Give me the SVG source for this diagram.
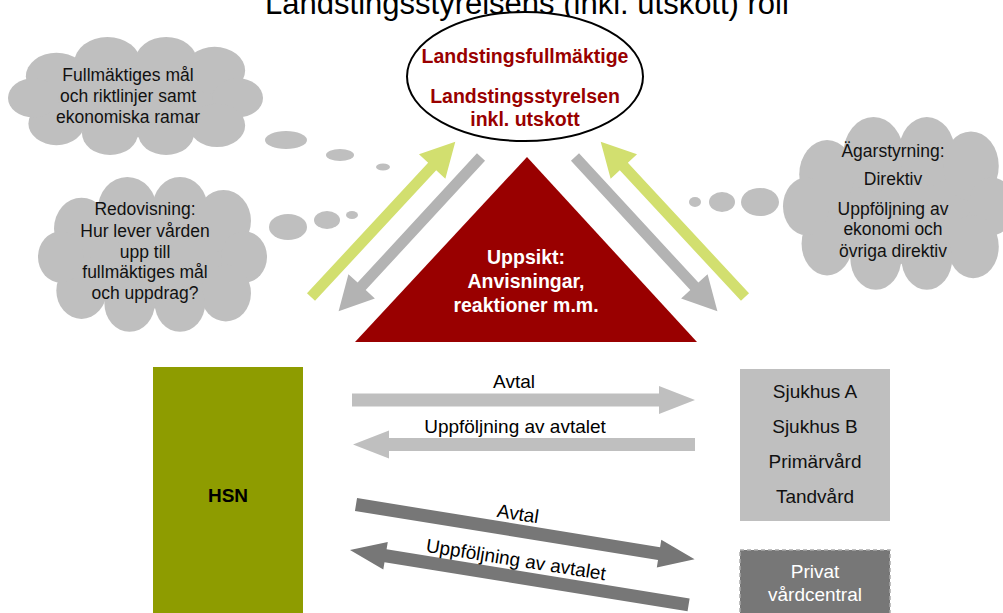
<svg xmlns="http://www.w3.org/2000/svg" xmlns:xlink="http://www.w3.org/1999/xlink" width="1003" height="613" viewBox="0 0 1003 613">
  <defs>
    <style>
      text { font-family: "Liberation Sans", Arial, sans-serif; }
      .title { font-size: 31px; fill: #000; }
      .cloudtxt { font-size: 17.5px; fill: #111; text-anchor: middle; }
      .boldred { font-size: 19.5px; font-weight: bold; fill: #990000; text-anchor: middle; }
      .boldwhite { font-size: 19.5px; font-weight: bold; fill: #fff; text-anchor: middle; }
      .unit { font-size: 19px; fill: #111; text-anchor: middle; }
      .lbl { font-size: 19px; fill: #000; text-anchor: middle; }
      .cloud { fill: #bfbfbf; }
      .green { fill: #d2df6f; }
      .grey { fill: #b3b3b3; }
      .light { fill: #bfbfbf; }
      .dark { fill: #777777; }
    </style>
    <!-- cloud outline built from overlapping lobes in a 200 x 120 box -->
    <g id="cloudShape">
      <ellipse cx="100" cy="60" rx="80" ry="42"/>
      <circle cx="38" cy="40" r="24"/>
      <circle cx="78" cy="26" r="26"/>
      <circle cx="124" cy="24" r="24"/>
      <circle cx="162" cy="34" r="24"/>
      <circle cx="180" cy="62" r="20"/>
      <circle cx="164" cy="90" r="22"/>
      <circle cx="124" cy="98" r="22"/>
      <circle cx="80" cy="98" r="22"/>
      <circle cx="38" cy="88" r="22"/>
      <circle cx="20" cy="62" r="20"/>
    </g>
  </defs>

  <rect width="1003" height="613" fill="#fff"/>

  <text class="title" x="527" y="14" text-anchor="middle">Landstingsstyrelsens (inkl. utskott) roll</text>

  <!-- thought clouds -->
  <g id="cloud-mal" class="cloud">
    <use xlink:href="#cloudShape" transform="translate(8,37) scale(1.275,0.983)"/>
    <ellipse cx="286" cy="140" rx="21" ry="9"/>
    <ellipse cx="340" cy="155" rx="14" ry="6"/>
    <ellipse cx="383" cy="167" rx="7" ry="3.5"/>
    <text class="cloudtxt" x="128" y="81">Fullmäktiges mål</text>
    <text class="cloudtxt" x="128" y="102">och riktlinjer samt</text>
    <text class="cloudtxt" x="128" y="123">ekonomiska ramar</text>
  </g>

  <g id="cloud-redovisning" class="cloud">
    <use xlink:href="#cloudShape" transform="translate(38,177) scale(1.145,1.29)"/>
    <ellipse cx="288" cy="227" rx="19" ry="13"/>
    <ellipse cx="327" cy="220" rx="13" ry="9"/>
    <ellipse cx="352" cy="215" rx="6" ry="4"/>
    <text class="cloudtxt" x="145" y="215">Redovisning:</text>
    <text class="cloudtxt" x="145" y="237">Hur lever vården</text>
    <text class="cloudtxt" x="145" y="258">upp till</text>
    <text class="cloudtxt" x="145" y="278">fullmäktiges mål</text>
    <text class="cloudtxt" x="145" y="299">och uppdrag?</text>
  </g>

  <g id="cloud-agarstyrning" class="cloud">
    <use xlink:href="#cloudShape" transform="translate(783,117) scale(1.16,1.44)"/>
    <ellipse cx="760" cy="202" rx="19" ry="14"/>
    <ellipse cx="722" cy="202" rx="13" ry="10"/>
    <ellipse cx="695" cy="202" rx="6" ry="5"/>
    <text class="cloudtxt" x="893" y="157">Ägarstyrning:</text>
    <text class="cloudtxt" x="893" y="185">Direktiv</text>
    <text class="cloudtxt" x="893" y="215">Uppföljning av</text>
    <text class="cloudtxt" x="893" y="235">ekonomi och</text>
    <text class="cloudtxt" x="893" y="257">övriga direktiv</text>
  </g>

  <!-- council ellipse -->
  <g id="node-landsting">
    <ellipse cx="525" cy="76.5" rx="118" ry="64.5" fill="#fff" stroke="#000" stroke-width="2"/>
    <text class="boldred" x="525" y="63">Landstingsfullmäktige</text>
    <text class="boldred" x="525" y="103">Landstingsstyrelsen</text>
    <text class="boldred" x="525" y="126">inkl. utskott</text>
  </g>

  <!-- supervision triangle -->
  <g id="node-uppsikt">
    <polygon points="527,157 355,342 697,342" fill="#990000"/>
    <text class="boldwhite" x="526" y="264">Uppsikt:</text>
    <text class="boldwhite" x="526" y="288">Anvisningar,</text>
    <text class="boldwhite" x="526" y="312">reaktioner m.m.</text>
  </g>

  <!-- HSN board -->
  <g id="node-hsn">
    <rect x="153" y="367" width="150" height="250" fill="#8e9c00"/>
    <text x="228" y="502" font-size="19" font-weight="bold" fill="#000" text-anchor="middle">HSN</text>
  </g>

  <!-- county-run units -->
  <g id="node-enheter">
    <rect x="740" y="369" width="150" height="152" fill="#bfbfbf"/>
    <text class="unit" x="815" y="398">Sjukhus A</text>
    <text class="unit" x="815" y="433">Sjukhus B</text>
    <text class="unit" x="815" y="468">Primärvård</text>
    <text class="unit" x="815" y="503">Tandvård</text>
  </g>

  <!-- private health centre -->
  <g id="node-privat">
    <rect x="740" y="550" width="150" height="70" fill="#777777" stroke="#aaaaaa" stroke-width="1.5" stroke-dasharray="4 3"/>
    <text x="815" y="578" font-size="19" fill="#fff" text-anchor="middle">Privat</text>
    <text x="815" y="601" font-size="19" fill="#fff" text-anchor="middle">vårdcentral</text>
  </g>

  <!-- connectors -->
  <g id="connectors">
    <!-- upper diagonal block arrows -->
    <path class="green" transform="translate(311,297) rotate(-47.1)" d="M0,-5.5 H178 V-18 L212,0 L178,18 V5.5 H0 Z"/>
    <path class="grey" transform="translate(481,157) rotate(132.7)" d="M0,-5.5 H176 V-18 L210,0 L176,18 V5.5 H0 Z"/>
    <path class="grey" transform="translate(575,157) rotate(47.3)" d="M0,-5.5 H176 V-18 L210,0 L176,18 V5.5 H0 Z"/>
    <path class="green" transform="translate(745,297) rotate(-132.9)" d="M0,-5.5 H178 V-18 L212,0 L178,18 V5.5 H0 Z"/>

    <!-- agreement arrows to county-run units -->
    <path class="light" transform="translate(352,400)" d="M0,-6.5 H307 V-14 L343,0 L307,14 V6.5 H0 Z"/>
    <path class="light" transform="translate(353,444.5)" d="M0,0 L36,-14 V-6.5 H342 V6.5 H36 V14 Z"/>
    <text class="lbl" x="514" y="388">Avtal</text>
    <text class="lbl" x="515" y="433">Uppföljning av avtalet</text>

    <!-- agreement arrows to private health centre -->
    <path class="dark" transform="translate(356,504.5) rotate(9.2)" d="M0,-6.5 H307 V-14 L343,0 L307,14 V6.5 H0 Z"/>
    <path class="dark" transform="translate(350,550) rotate(9.2)" d="M0,0 L36,-14 V-6.5 H343 V6.5 H36 V14 Z"/>
    <text class="lbl" transform="translate(517,520) rotate(9)">Avtal</text>
    <text class="lbl" transform="translate(515,566) rotate(9)">Uppföljning av avtalet</text>
  </g>
</svg>
